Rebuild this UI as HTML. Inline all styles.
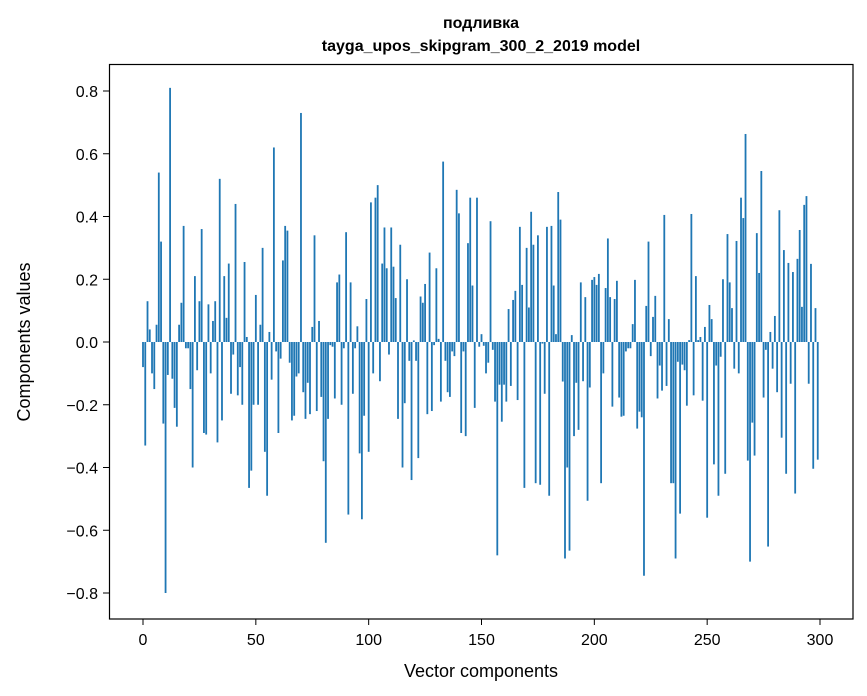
<!DOCTYPE html>
<html><head><meta charset="utf-8"><style>
body{margin:0;background:#fff;}
svg{display:block;font-family:"Liberation Sans","DejaVu Sans",sans-serif;}
</style></head><body>
<svg id="chart" width="867" height="696" viewBox="0 0 867 696">
<rect width="867" height="696" fill="#fff"/>
<text x="481" y="28" text-anchor="middle" font-size="16" font-weight="bold">подливка</text>
<text x="481" y="51" text-anchor="middle" font-size="16" font-weight="bold">tayga_upos_skipgram_300_2_2019 model</text>
<g id="bars"></g>
<g id="axes"></g>
<rect x="109.5" y="64.5" width="743.5" height="554.5" fill="none" stroke="#000" stroke-width="1.2"/>
<text x="481" y="677" text-anchor="middle" font-size="18">Vector components</text>
<text transform="translate(30,342) rotate(-90)" text-anchor="middle" font-size="18">Components values</text>
</svg>
<script>
const values = [
-0.08,-0.33,0.13,0.04,-0.10,-0.15,0.055,0.54,0.32,-0.26,
-0.80,-0.105,0.81,-0.117,-0.21,-0.27,0.055,0.125,0.37,-0.02,
-0.02,-0.15,-0.40,0.21,-0.09,0.13,0.36,-0.29,-0.295,0.12,
-0.10,0.067,0.13,-0.32,0.52,-0.25,0.21,0.077,0.25,-0.165,
-0.04,0.44,-0.17,-0.08,-0.20,0.255,0.016,-0.465,-0.41,-0.20,
0.15,-0.20,0.055,0.30,-0.35,-0.49,0.032,-0.12,0.62,-0.03,
-0.29,-0.053,0.26,0.37,0.355,-0.066,-0.25,-0.235,-0.11,-0.10,
0.73,-0.16,-0.245,-0.13,-0.23,0.048,0.34,-0.22,0.067,-0.175,
-0.38,-0.64,-0.245,-0.01,-0.015,-0.18,0.19,0.215,-0.20,-0.02,
0.35,-0.55,0.19,-0.165,-0.02,0.05,-0.355,-0.565,-0.235,0.137,
-0.35,0.445,-0.10,0.46,0.50,-0.125,0.25,0.365,0.235,-0.04,
0.365,0.24,0.14,-0.245,0.31,-0.40,-0.195,0.20,-0.06,-0.44,
0.005,-0.06,-0.37,0.145,0.125,0.185,-0.23,0.285,-0.22,-0.01,
0.235,0.01,-0.19,0.575,-0.06,-0.16,-0.175,-0.03,-0.045,0.485,
0.41,-0.29,-0.03,-0.30,0.315,0.46,0.18,-0.21,0.46,-0.015,
0.025,-0.012,-0.10,-0.066,0.385,-0.025,-0.19,-0.68,-0.136,-0.254,
-0.136,-0.19,0.105,-0.14,0.134,0.163,-0.185,0.367,0.182,-0.465,
0.30,0.11,0.415,0.31,-0.45,0.34,-0.455,-0.005,-0.165,0.367,
-0.49,0.37,0.18,0.025,0.478,0.39,-0.126,-0.69,-0.40,-0.665,
0.022,-0.30,-0.13,-0.28,0.19,-0.125,0.143,-0.506,-0.145,0.198,
0.207,0.182,0.217,-0.45,-0.10,0.172,0.33,0.143,-0.206,0.137,
0.195,-0.177,-0.238,-0.235,-0.03,-0.02,-0.02,0.057,0.198,-0.276,
-0.222,-0.24,-0.745,0.115,0.32,-0.045,0.08,0.147,-0.18,-0.075,
-0.155,0.405,-0.14,0.073,-0.45,-0.45,-0.69,-0.063,-0.547,-0.072,
-0.09,-0.203,0.006,0.408,-0.17,0.21,0.006,0.016,-0.187,0.048,
-0.56,0.118,0.073,-0.39,-0.075,-0.49,-0.047,0.20,-0.42,0.344,
0.19,0.108,-0.085,0.322,-0.10,0.46,0.395,0.663,-0.378,-0.70,
-0.257,-0.362,0.347,0.22,0.545,-0.177,-0.025,-0.652,0.032,-0.085,
0.083,-0.16,0.42,-0.305,0.293,-0.42,0.252,-0.133,0.223,-0.483,
0.265,0.357,0.112,0.437,0.465,-0.133,0.249,-0.404,0.108,-0.375
];
const xTicks = [0,50,100,150,200,250,300];
const yTicks = [-0.8,-0.6,-0.4,-0.2,0.0,0.2,0.4,0.6,0.8];
const yTickLabels = ["\u22120.8","\u22120.6","\u22120.4","\u22120.2","0.0","0.2","0.4","0.6","0.8"];

const NS = "http://www.w3.org/2000/svg";
const xScale = v => 143 + v * (677 / 300);
const yScale = v => 342 - v * 313.75;
const barsG = document.getElementById('bars');
values.forEach((v, i) => {
  const r = document.createElementNS(NS, 'rect');
  const w = 0.8 * 677 / 300;
  const y0 = yScale(0), y1 = yScale(v);
  r.setAttribute('x', xScale(i) - w / 2);
  r.setAttribute('y', Math.min(y0, y1));
  r.setAttribute('width', w);
  r.setAttribute('height', Math.max(Math.abs(y1 - y0), 0.3));
  r.setAttribute('fill', '#1f77b4');
  
  
  barsG.appendChild(r);
});
const axesG = document.getElementById('axes');
xTicks.forEach(t => {
  const x = xScale(t);
  const l = document.createElementNS(NS, 'line');
  l.setAttribute('x1', x); l.setAttribute('x2', x);
  l.setAttribute('y1', 619); l.setAttribute('y2', 625);
  l.setAttribute('stroke', '#000');
  
  
  axesG.appendChild(l);
  const tx = document.createElementNS(NS, 'text');
  tx.setAttribute('x', x); tx.setAttribute('y', 645);
  tx.setAttribute('text-anchor', 'middle');
  tx.setAttribute('font-size', '16');
  tx.textContent = String(t);
  
  
  axesG.appendChild(tx);
});
yTicks.forEach((t, i) => {
  const y = yScale(t);
  const l = document.createElementNS(NS, 'line');
  l.setAttribute('x1', 103); l.setAttribute('x2', 109);
  l.setAttribute('y1', y); l.setAttribute('y2', y);
  l.setAttribute('stroke', '#000');
  
  
  axesG.appendChild(l);
  const tx = document.createElementNS(NS, 'text');
  tx.setAttribute('x', 98); tx.setAttribute('y', y + 6);
  tx.setAttribute('text-anchor', 'end');
  tx.setAttribute('font-size', '16');
  tx.textContent = yTickLabels[i];
  
  
  axesG.appendChild(tx);
});
</script>
</body></html>
